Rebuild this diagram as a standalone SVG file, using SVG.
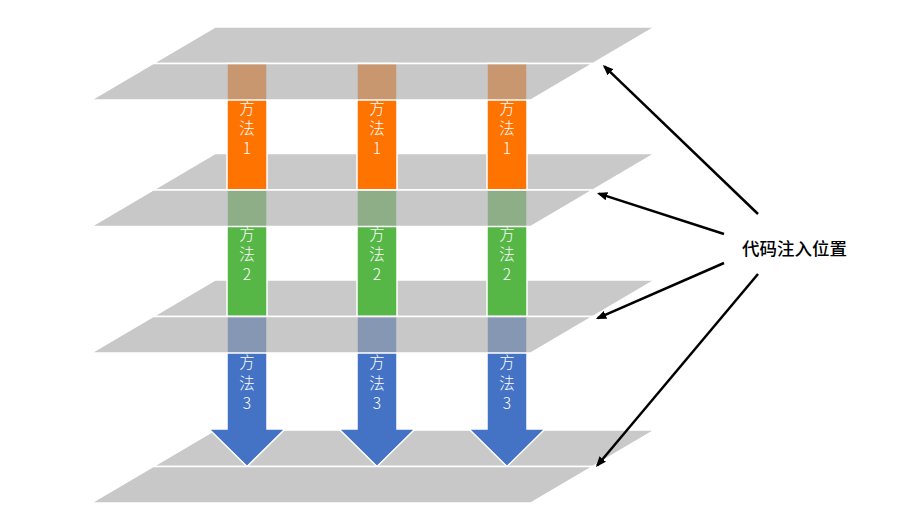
<svg xmlns="http://www.w3.org/2000/svg" width="908" height="517" viewBox="0 0 908 517">
<style>
.up{fill:#c9c9c9;stroke:#ffffff;stroke-width:1.5;stroke-linejoin:round}
.lo{fill:#aaaaaa;fill-opacity:0.65;stroke:#ffffff;stroke-width:1.5;stroke-linejoin:round}
.col{stroke:#ffffff;stroke-width:1.5}
.org{fill:#ff7300}
.grn{fill:#56b646}
.blu{fill:#4472c4}
.ct{font-family:"Noto Sans CJK SC","Noto Sans",sans-serif;font-size:15.5px;font-weight:300;fill:#ffffff;text-anchor:middle}
.lbl{font-family:"Noto Sans CJK SC","Noto Sans",sans-serif;font-size:17.5px;font-weight:500;fill:#000000}
.conn{stroke:#000000;stroke-width:2.5;fill:none;marker-end:url(#ah)}
</style>
<defs>
<marker id="ah" viewBox="0 0 10 10" refX="8" refY="5" markerWidth="4.2" markerHeight="3.4" orient="auto" markerUnits="strokeWidth" preserveAspectRatio="none">
<path d="M0,0 L10,5 L0,10 z" fill="#000000"/>
</marker>
<clipPath id="c1"><rect x="0" y="100.5" width="908" height="89.5"/></clipPath>
<clipPath id="c2"><rect x="0" y="227" width="908" height="89.5"/></clipPath>
<clipPath id="c3"><rect x="0" y="353.5" width="908" height="113"/></clipPath>
</defs>
<rect width="908" height="517" fill="#ffffff"/>
<g id="planes-upper">
<polygon id="plane1-top" class="up" points="215,27 655,27 593,63.5 153,63.5"/>
<polygon id="plane2-top" class="up" points="215,153.5 655,153.5 593,190 153,190"/>
<polygon id="plane3-top" class="up" points="215,280 655,280 593,316.5 153,316.5"/>
<polygon id="plane4-top" class="up" points="215,430 655,430 593,466.5 153,466.5"/>
</g>
<g id="method1">
<rect class="col org" x="227" y="63.5" width="40" height="126.5"/>
<rect class="col org" x="357" y="63.5" width="40" height="126.5"/>
<rect class="col org" x="487" y="63.5" width="40" height="126.5"/>
<g clip-path="url(#c1)">
<text class="ct" x="247" y="114">方<tspan x="247" dy="20">法</tspan><tspan x="247" dy="20">1</tspan></text>
<text class="ct" x="377" y="114">方<tspan x="377" dy="20">法</tspan><tspan x="377" dy="20">1</tspan></text>
<text class="ct" x="507" y="114">方<tspan x="507" dy="20">法</tspan><tspan x="507" dy="20">1</tspan></text>
</g>
</g>
<g id="method2">
<rect class="col grn" x="227" y="190" width="40" height="126.5"/>
<rect class="col grn" x="357" y="190" width="40" height="126.5"/>
<rect class="col grn" x="487" y="190" width="40" height="126.5"/>
<g clip-path="url(#c2)">
<text class="ct" x="247" y="240">方<tspan x="247" dy="20">法</tspan><tspan x="247" dy="20">2</tspan></text>
<text class="ct" x="377" y="240">方<tspan x="377" dy="20">法</tspan><tspan x="377" dy="20">2</tspan></text>
<text class="ct" x="507" y="240">方<tspan x="507" dy="20">法</tspan><tspan x="507" dy="20">2</tspan></text>
</g>
</g>
<g id="method3">
<polygon class="col blu" points="227,316.5 267,316.5 267,429 285,429 247,466.5 209,429 227,429"/>
<polygon class="col blu" points="357,316.5 397,316.5 397,429 415,429 377,466.5 339,429 357,429"/>
<polygon class="col blu" points="487,316.5 527,316.5 527,429 545,429 507,466.5 469,429 487,429"/>
<g clip-path="url(#c3)">
<text class="ct" x="247" y="368">方<tspan x="247" dy="20.5">法</tspan><tspan x="247" dy="20.5">3</tspan></text>
<text class="ct" x="377" y="368">方<tspan x="377" dy="20.5">法</tspan><tspan x="377" dy="20.5">3</tspan></text>
<text class="ct" x="507" y="368">方<tspan x="507" dy="20.5">法</tspan><tspan x="507" dy="20.5">3</tspan></text>
</g>
</g>
<g id="planes-lower">
<polygon id="plane1-bottom" class="lo" points="153,63.5 593,63.5 531,100 91,100"/>
<polygon id="plane2-bottom" class="lo" points="153,190 593,190 531,226.5 91,226.5"/>
<polygon id="plane3-bottom" class="lo" points="153,316.5 593,316.5 531,353 91,353"/>
<polygon id="plane4-bottom" class="lo" points="153,466.5 593,466.5 531,503 91,503"/>
</g>
<g id="label">
<text class="lbl" x="742" y="254.5">代码注入位置</text>
</g>
<g id="connectors">
<line class="conn" x1="758" y1="214" x2="604.4" y2="66.4"/>
<line class="conn" x1="724" y1="234" x2="598.9" y2="193.6"/>
<line class="conn" x1="724" y1="263" x2="597.8" y2="318.2"/>
<line class="conn" x1="758" y1="274" x2="597.3" y2="465.5"/>
</g>
</svg>
